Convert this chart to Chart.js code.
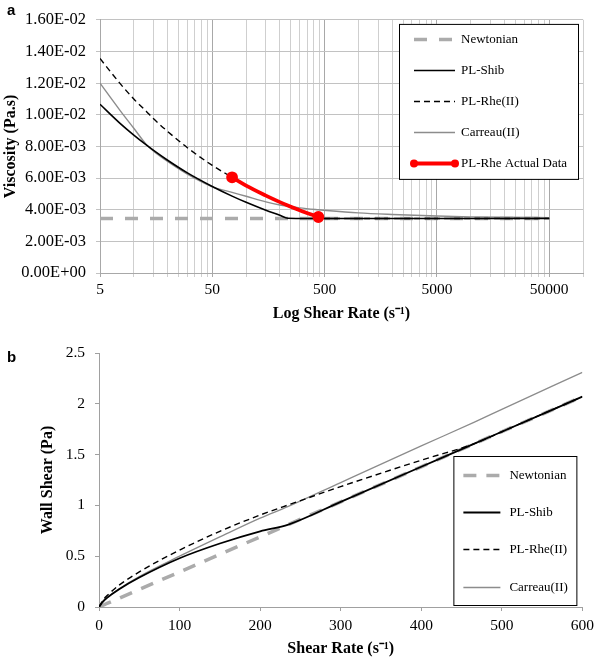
<!DOCTYPE html>
<html>
<head>
<meta charset="utf-8">
<script src="https://cdn.jsdelivr.net/npm/chart.js@4.4.0/dist/chart.umd.min.js"></script>
<style>
  html, body { margin: 0; padding: 0; background: #fff; }
  canvas { display: block; }
</style>
</head>
<body>
<canvas id="chartA" width="600" height="330"></canvas>
<canvas id="chartB" width="600" height="329"></canvas>
<script>
// ---- panel a : viscosity vs log shear rate ----
const shearA = [5, 7.5, 10, 13, 15, 20, 30, 50, 75, 100, 150, 200, 235, 300, 440, 490, 1000, 2000, 5000, 10000, 20000, 50000];
const newtonianA = [3.45e-3, 3.45e-3, 3.45e-3, 3.45e-3, 3.45e-3, 3.45e-3, 3.45e-3, 3.45e-3, 3.45e-3, 3.45e-3, 3.45e-3,
  3.45e-3, 3.45e-3, 3.45e-3, 3.45e-3, 3.45e-3, 3.45e-3, 3.45e-3, 3.45e-3, 3.45e-3, 3.45e-3, 3.45e-3];
const plShibA = [10.67e-3, 9.48e-3, 8.72e-3, 8.08e-3, 7.75e-3, 7.13e-3, 6.33e-3, 5.47e-3, 4.86e-3, 4.47e-3, 3.97e-3,
  3.65e-3, 3.46e-3, 3.45e-3, 3.45e-3, 3.45e-3, 3.45e-3, 3.45e-3, 3.45e-3, 3.45e-3, 3.45e-3, 3.45e-3];
const plRheA = [13.56e-3, 12.0e-3, 11.0e-3, 10.2e-3, 9.75e-3, 8.95e-3, 7.92e-3, 6.80e-3, 6.05e-3, 5.52e-3, 4.89e-3,
  4.48e-3, 4.27e-3, 3.97e-3, 3.54e-3, 3.45e-3, 3.45e-3, 3.45e-3, 3.45e-3, 3.45e-3, 3.45e-3, 3.45e-3];
const carreauA = [12.0e-3, 10.3e-3, 9.15e-3, 8.1e-3, 7.7e-3, 7.05e-3, 6.25e-3, 5.45e-3, 5.1e-3, 4.85e-3, 4.5e-3,
  4.3e-3, 4.22e-3, 4.12e-3, 4.0e-3, 3.97e-3, 3.8e-3, 3.7e-3, 3.6e-3, 3.55e-3, 3.52e-3, 3.5e-3];
const rheActualA = [null, null, null, null, null, null, null, null, 6.05e-3, 5.52e-3, 4.89e-3,
  4.48e-3, 4.27e-3, 3.97e-3, 3.54e-3, null, null, null, null, null, null, null];
const rateLabelsA = [5, 50, 500, 5000, 50000];

// ---- panel b : wall shear vs shear rate ----
const shearB = [0, 5, 10, 25, 50, 100, 150, 200, 235, 300, 400, 466, 500, 600];
const newtonianB = [0, 0.017, 0.035, 0.086, 0.173, 0.345, 0.518, 0.69, 0.811, 1.035, 1.38, 1.608, 1.725, 2.07];
const plShibB = [0, 0.053, 0.09, 0.175, 0.29, 0.48, 0.625, 0.745, 0.811, 1.035, 1.38, 1.608, 1.725, 2.07];
const plRheB = [0, 0.068, 0.112, 0.215, 0.345, 0.56, 0.745, 0.905, 1.005, 1.185, 1.445, 1.608, 1.725, 2.07];
const carreauB = [0, 0.06, 0.095, 0.18, 0.3, 0.5, 0.69, 0.875, 0.99, 1.225, 1.585, 1.82, 1.945, 2.31];

const serif = "'Liberation Serif', 'Times New Roman', serif";
const tickFont = { family: serif, size: 15.5 };
const titleFont = { family: serif, size: 16, weight: 'bold' };

function pts(xs, ys) {
  return xs.map((x, i) => ({ x: x, y: ys[i] }));
}

// 0.016 -> "1.60E-02"
function sci(v) {
  const s = Number(v).toExponential(2).split('e');
  return s[0] + 'E' + s[1][0] + s[1].slice(1).padStart(2, '0');
}

// gridlines at 5,10,15..50,100,150..
const gridA = [];
rateLabelsA.forEach(m => { for (let k = 1; k <= 9; k++) gridA.push(m * k); });
gridA.push(100000);

// legend box drawn inside the plot, like the original
const boxLegend = {
  id: 'boxLegend',
  afterDraw(chart, args, o) {
    const { ctx, chartArea } = chart;
    const left = chartArea.right - o.right - o.width;
    const top = o.bottom != null ? chartArea.bottom - o.bottom - o.height : chartArea.top + o.top;
    ctx.save();
    ctx.fillStyle = '#fff';
    ctx.fillRect(left, top, o.width, o.height);
    ctx.strokeStyle = '#000';
    ctx.lineWidth = 1;
    ctx.strokeRect(left + 0.5, top + 0.5, o.width, o.height);
    ctx.font = '13px ' + serif;
    ctx.textBaseline = 'middle';
    chart.data.datasets.forEach((ds, i) => {
      const y = Math.round(top + o.first + i * o.gap) + 0.5;
      const x1 = left + o.sampleFrom, x2 = left + o.sampleTo;
      ctx.strokeStyle = ds.borderColor;
      ctx.lineWidth = ds.borderWidth;
      ctx.setLineDash(ds.borderDash || []);
      ctx.beginPath();
      ctx.moveTo(x1, y);
      ctx.lineTo(x2, y);
      ctx.stroke();
      ctx.setLineDash([]);
      if (ds.legendDots) {
        ctx.fillStyle = ds.borderColor;
        [x1, x2].forEach(x => { ctx.beginPath(); ctx.arc(x, y, 4, 0, Math.PI * 2); ctx.fill(); });
      }
      ctx.fillStyle = '#000';
      ctx.fillText(ds.label, left + o.textX, y);
    });
    ctx.restore();
  }
};

const panelLetter = {
  id: 'panelLetter',
  afterDraw(chart, args, o) {
    const ctx = chart.ctx;
    ctx.save();
    ctx.font = "bold 15px 'Liberation Sans', Arial, sans-serif";
    ctx.fillStyle = '#000';
    ctx.fillText(o.text, o.x, o.y);
    ctx.restore();
  }
};

new Chart(document.getElementById('chartA'), {
  type: 'line',
  data: {
    datasets: [
      { label: 'Newtonian', data: pts(shearA, newtonianA), borderColor: '#ababab', borderWidth: 3.5, borderDash: [13, 12], order: 5 },
      { label: 'PL-Shib', data: pts(shearA, plShibA), borderColor: '#000', borderWidth: 1.6, order: 2 },
      { label: 'PL-Rhe(II)', data: pts(shearA, plRheA), borderColor: '#000', borderWidth: 1.4, borderDash: [6, 4], order: 3 },
      { label: 'Carreau(II)', data: pts(shearA, carreauA), borderColor: '#8c8c8c', borderWidth: 1.4, order: 4 },
      { label: 'PL-Rhe Actual Data', data: pts(shearA, rheActualA), borderColor: '#ff0000', backgroundColor: '#ff0000',
        borderWidth: 3.8, legendDots: true, order: 1,
        pointRadius: c => (c.dataIndex === 8 || c.dataIndex === 14) ? 4 : 0 }
    ]
  },
  options: {
    responsive: false,
    animation: false,
    layout: { padding: { top: 10, right: 17, left: 0, bottom: 0 } },
    elements: { point: { radius: 0 }, line: { cubicInterpolationMode: 'monotone' } },
    plugins: {
      legend: { display: false },
      tooltip: { enabled: false },
      boxLegend: { width: 179, height: 155, right: 5, top: 4, first: 15.5, gap: 31, sampleFrom: 15, sampleTo: 56, textX: 62 },
      panelLetter: { text: 'a', x: 7, y: 15 }
    },
    scales: {
      x: {
        type: 'logarithmic', min: 5, max: 100000,
        afterBuildTicks: s => { s.ticks = gridA.map(v => ({ value: v })); },
        afterFit: s => { s.height = 57; },
        grid: { color: c => rateLabelsA.includes(c.tick && c.tick.value) ? '#a8a8a8' : '#cfcfcf', tickLength: 4 },
        border: { color: '#a8a8a8' },
        ticks: { autoSkip: false, maxRotation: 0, padding: 4, font: tickFont, color: '#000',
          callback: v => rateLabelsA.includes(v) ? String(v) : '' },
        title: { display: true, text: 'Log Shear Rate (s\u207B\u00B9)', font: titleFont, color: '#000', padding: { top: 0, bottom: 7 } }
      },
      y: {
        min: 0, max: 0.016,
        afterFit: s => { s.width = 100; },
        grid: { color: '#c2c2c2', tickLength: 4 },
        border: { color: '#a8a8a8' },
        ticks: { stepSize: 0.002, padding: 10, font: { family: serif, size: 16.5 }, color: '#000', callback: v => sci(v) },
        title: { display: true, text: 'Viscosity (Pa.s)', font: titleFont, color: '#000', padding: { top: 1, bottom: 0 } }
      }
    }
  },
  plugins: [boxLegend, panelLetter]
});

new Chart(document.getElementById('chartB'), {
  type: 'line',
  data: {
    datasets: [
      { label: 'Newtonian', data: pts(shearB, newtonianB), borderColor: '#ababab', borderWidth: 3.5, borderDash: [13, 10], order: 5 },
      { label: 'PL-Shib', data: pts(shearB, plShibB), borderColor: '#000', borderWidth: 1.8, order: 2 },
      { label: 'PL-Rhe(II)', data: pts(shearB, plRheB), borderColor: '#000', borderWidth: 1.4, borderDash: [6, 4], order: 3 },
      { label: 'Carreau(II)', data: pts(shearB, carreauB), borderColor: '#8c8c8c', borderWidth: 1.3, order: 4 }
    ]
  },
  options: {
    responsive: false,
    animation: false,
    layout: { padding: { top: 23, right: 15, left: 0, bottom: 0 } },
    elements: { point: { radius: 0 }, line: { cubicInterpolationMode: 'monotone' } },
    plugins: {
      legend: { display: false },
      tooltip: { enabled: false },
      boxLegend: { width: 123, height: 149, right: 6, bottom: 2, first: 19, gap: 37.2, sampleFrom: 10, sampleTo: 47, textX: 56 },
      panelLetter: { text: 'b', x: 7, y: 32 }
    },
    scales: {
      x: {
        type: 'linear', min: 0, max: 600,
        afterFit: s => { s.height = 52; },
        grid: { drawOnChartArea: false, color: '#a0a0a0', tickLength: 4 },
        border: { color: '#a0a0a0' },
        ticks: { stepSize: 100, padding: 6, font: tickFont, color: '#000' },
        title: { display: true, text: 'Shear Rate (s\u207B\u00B9)', font: titleFont, color: '#000', padding: { top: 0, bottom: 1 } }
      },
      y: {
        min: 0, max: 2.5,
        afterFit: s => { s.width = 99; },
        grid: { drawOnChartArea: false, color: '#a0a0a0', tickLength: 4 },
        border: { color: '#a0a0a0' },
        ticks: { stepSize: 0.5, padding: 10, font: tickFont, color: '#000', callback: v => String(Number(v.toFixed(2))) },
        title: { display: true, text: 'Wall Shear (Pa)', font: titleFont, color: '#000', padding: { top: 38, bottom: 0 } }
      }
    }
  },
  plugins: [boxLegend, panelLetter]
});
</script>
</body>
</html>
